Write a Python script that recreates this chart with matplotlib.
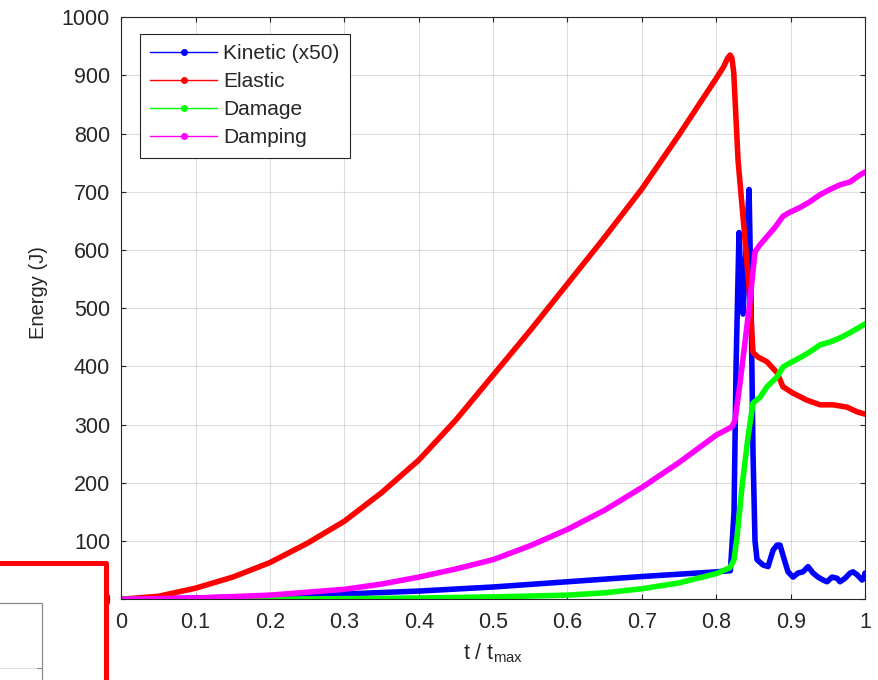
import numpy as np
import matplotlib
matplotlib.use("Agg")
import matplotlib.pyplot as plt
from matplotlib.lines import Line2D
from matplotlib.patches import Rectangle

plt.rcParams["font.family"] = ["Liberation Sans", "DejaVu Sans"]
plt.rcParams["mathtext.default"] = "regular"

# Energy curves (t / tmax, J)
kin_t = [0.0, 0.1, 0.2, 0.3, 0.4, 0.5, 0.6, 0.7, 0.8, 0.819,
         0.8239, 0.8266, 0.8306, 0.8333, 0.836, 0.84, 0.8441, 0.8467,
         0.8494, 0.8521, 0.8548, 0.8626, 0.8696, 0.8763, 0.8817, 0.8857,
         0.8924, 0.8965, 0.9032, 0.9099, 0.9166, 0.9234, 0.9301, 0.9368,
         0.9436, 0.9489, 0.9556, 0.9624, 0.9664, 0.9731, 0.9799, 0.9839,
         0.9893, 0.996, 0.9987, 1.0]
kin_e = [0, 2, 5, 9, 14, 21, 30, 39, 47, 49,
         150, 400, 630, 540, 490, 600, 704, 520,
         250, 100, 68, 59, 56, 84, 93, 93,
         64, 47, 38, 45, 47, 56, 45, 38,
         33, 30, 38, 36, 30, 36, 45, 47,
         42, 33, 36, 45]

ela_t = [0.0, 0.05, 0.1, 0.15, 0.2, 0.25, 0.3, 0.35, 0.4, 0.45,
         0.5, 0.55, 0.6, 0.65, 0.7, 0.75, 0.8, 0.81, 0.815, 0.8186,
         0.821, 0.8235, 0.8293, 0.8387, 0.8454, 0.8494, 0.8562, 0.8682,
         0.8817, 0.8897, 0.9032, 0.922, 0.9395, 0.957, 0.9758, 0.9893, 1.0]
ela_e = [0, 5, 19, 38, 63, 96, 134, 183, 239, 308,
         385, 462, 542, 622, 705, 798, 895, 915, 929, 935,
         930, 905, 754, 617, 514, 424, 416, 408,
         389, 365, 354, 342, 334, 334, 330, 322, 318]

dmg_t = [0.0, 0.1, 0.2, 0.3, 0.4, 0.5, 0.6, 0.65, 0.7, 0.75,
         0.8, 0.8182, 0.8239, 0.8279, 0.8346, 0.8427, 0.8494, 0.8588,
         0.8682, 0.8817, 0.8897, 0.8991, 0.9126, 0.926, 0.9395, 0.9529,
         0.9664, 0.9799, 0.9933, 1.0]
dmg_e = [0, 0, 0, 1, 2, 4, 7, 11, 18, 28,
         44, 54, 68, 107, 193, 279, 337, 347,
         365, 382, 399, 406, 415, 425, 437, 442,
         449, 458, 468, 473]

dmp_t = [0.0, 0.1, 0.2, 0.3, 0.35, 0.4, 0.45, 0.5, 0.55, 0.6,
         0.65, 0.7, 0.75, 0.8, 0.8208, 0.8252, 0.8319, 0.8387, 0.8454,
         0.8521, 0.8588, 0.8682, 0.879, 0.8897, 0.8991, 0.9126, 0.926,
         0.9395, 0.9529, 0.9664, 0.9799, 0.9933, 1.0]
dmp_e = [0, 2, 7, 17, 26, 38, 52, 68, 92, 120,
         153, 192, 235, 282, 296, 307, 371, 442, 514,
         597, 609, 623, 639, 658, 665, 673, 683,
         695, 704, 712, 717, 729, 734]

labels = ["Kinetic (x50)", "Elastic", "Damage", "Damping"]
colors = ["#0000ff", "#ff0000", "#00ff00", "#ff00ff"]

txt = "#262626"

fig = plt.figure(figsize=(8.79, 6.8), dpi=100)
ax = fig.add_axes([0.1379, 0.1188, 0.8462, 0.8559])

series = [(kin_t, kin_e), (ela_t, ela_e), (dmg_t, dmg_e), (dmp_t, dmp_e)]
for (t, e), c in zip(series, colors):
    ax.plot(t, e, color=c, lw=4, solid_capstyle="round",
            solid_joinstyle="round")

ax.set_xlim(0, 1)
ax.set_ylim(0, 1000)
ax.set_xticks(np.arange(0, 1.01, 0.1))
ax.set_xticklabels(["0", "0.1", "0.2", "0.3", "0.4", "0.5", "0.6",
                    "0.7", "0.8", "0.9", "1"])
ax.set_yticks(np.arange(0, 1001, 100))

ax.grid(True, color=txt, alpha=0.15, lw=0.8)
ax.set_axisbelow(True)
for s in ax.spines.values():
    s.set_color(txt)
    s.set_linewidth(0.8)
ax.tick_params(direction="in", length=3.6, width=0.8, colors=txt,
               labelsize=15.5, top=True, right=True)
ax.tick_params(axis="x", pad=9.5)
ax.tick_params(axis="y", pad=8)

ax.set_xlabel("t / t$_{max}$", fontsize=15.5, color=txt)
ax.set_ylabel("Energy (J)", fontsize=14.5, color=txt)
ax.xaxis.set_label_coords(0.5, -0.072)
ax.yaxis.set_label_coords(-0.098, 0.527)

handles = [Line2D([], [], color=c, lw=1, marker=".", markersize=8)
           for c in colors]
leg = ax.legend(handles, labels, loc="upper left",
                bbox_to_anchor=(0.0253, 0.971), borderaxespad=0,
                fontsize=15, fancybox=False, framealpha=1,
                handlelength=3.2, handletextpad=0.3, labelspacing=0.43,
                borderpad=0.5)
leg.get_frame().set_edgecolor(txt)
leg.get_frame().set_linewidth(0.8)
for t in leg.get_texts():
    t.set_color(txt)


# pasted screenshot corner in the bottom left
def fx(px):
    return px / 879


def fy(py):
    return 1 - py / 680


fig.add_artist(Rectangle((fx(0), fy(690)), fx(106), fy(563) - fy(690),
                         transform=fig.transFigure, facecolor="white",
                         edgecolor="none", zorder=10))
fig.add_artist(Line2D([fx(-5), fx(42), fx(42)], [fy(603), fy(603), fy(690)],
                      transform=fig.transFigure, color="#8a8a8a", lw=0.9,
                      zorder=11))
fig.add_artist(Line2D([fx(0), fx(42)], [fy(668), fy(668)],
                      transform=fig.transFigure, color="#e0e0e0", lw=0.8,
                      zorder=11))
fig.add_artist(Line2D([fx(37), fx(42)], [fy(668), fy(668)],
                      transform=fig.transFigure, color="#8a8a8a", lw=0.8,
                      zorder=11))
fig.add_artist(Line2D([fx(-5), fx(106), fx(106)], [fy(563), fy(563), fy(690)],
                      transform=fig.transFigure, color="#ff0000", lw=3.6,
                      solid_joinstyle="round", zorder=12))

fig.savefig("out.png", dpi=100)
